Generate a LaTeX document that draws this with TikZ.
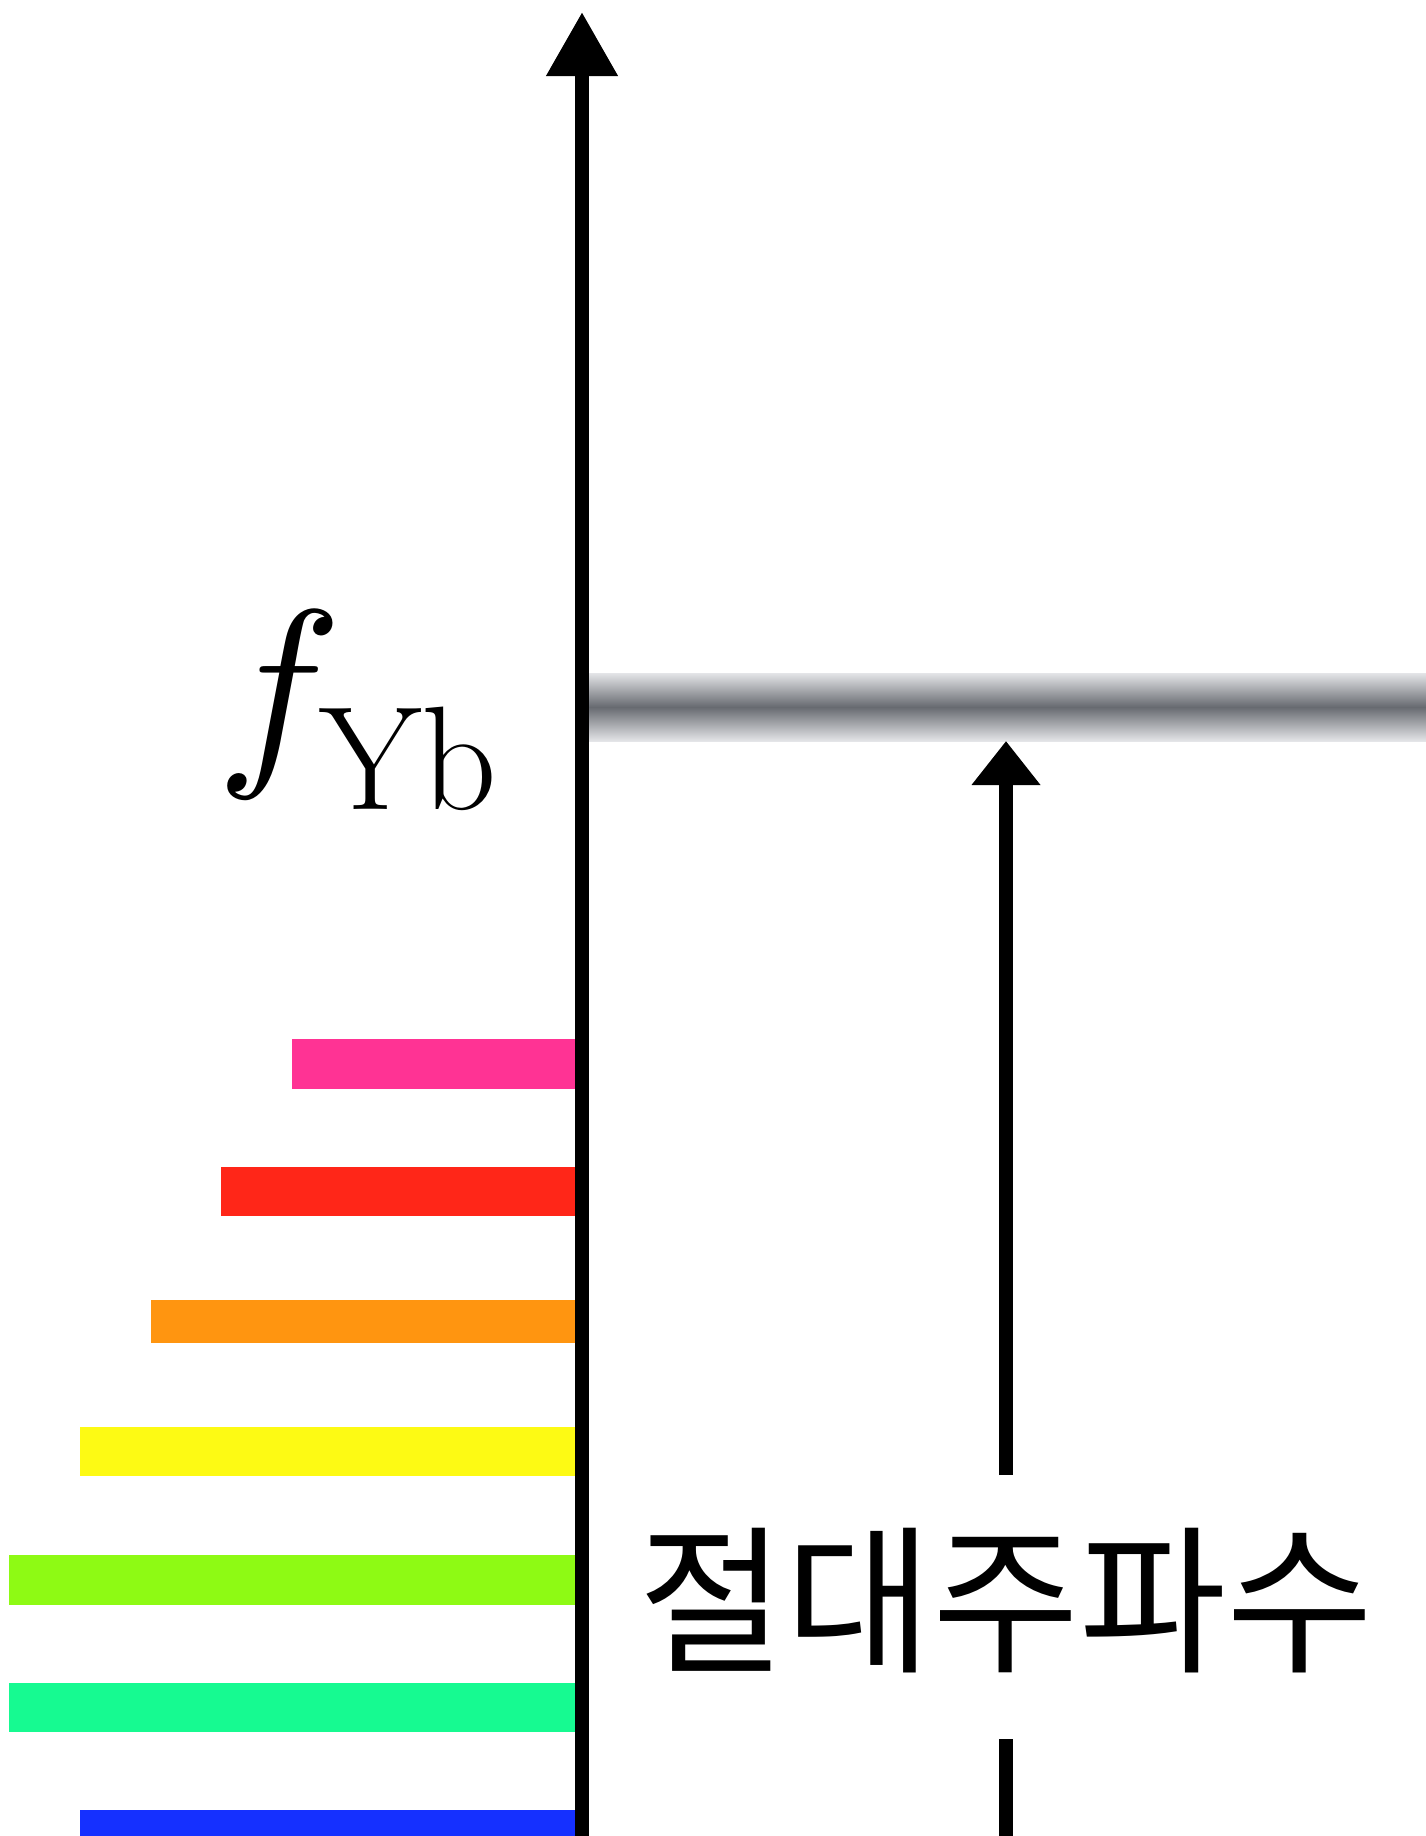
\documentclass[tikz,border=0pt]{standalone}
\usepackage{fontspec}
\usepackage{unicode-math}
\setmathfont{Latin Modern Math}
\newfontfamily\kofont{Noto Sans CJK KR}
\usetikzlibrary{arrows.meta}
\definecolor{pinkbar}{HTML}{FF3394}
\definecolor{redbar}{HTML}{FF2618}
\definecolor{orangebar}{HTML}{FF9510}
\definecolor{yellowbar}{HTML}{FDFA14}
\definecolor{limebar}{HTML}{8EFA14}
\definecolor{springbar}{HTML}{16FA91}
\definecolor{bluebar}{HTML}{1530FF}
\definecolor{bandedge}{HTML}{E4E5E8}
\definecolor{bandmid}{HTML}{676A70}
\tikzset{
  axisline/.style={line width=14pt, draw=black},
  bigtip/.style={-{Triangle[width=68pt,length=64pt]}},
  smalltip/.style={-{Triangle[width=66pt,length=44pt]}},
}
\begin{document}
\begin{tikzpicture}[x=1pt,y=-1pt]
\useasboundingbox (0,0) rectangle (1426,1836);
% colour bars
\fill[pinkbar]   (292,1039) rectangle (582,1089);
\fill[redbar]    (221,1167) rectangle (582,1216);
\fill[orangebar] (151,1300) rectangle (582,1343);
\fill[yellowbar] (80,1427)  rectangle (582,1476);
\fill[limebar]   (9,1555)   rectangle (582,1605);
\fill[springbar] (9,1683)   rectangle (582,1732);
\fill[bluebar]   (80,1810)  rectangle (582,1836);
% gray level band
\shade[top color=bandedge, bottom color=bandedge, middle color=bandmid] (589,673) rectangle (1426,741);
% main axis
\coordinate (axbot) at (582,1836);
\coordinate (axtop) at (582,12);
\draw[axisline, bigtip] (axbot) -- (axtop);
% label f_Yb
\node[inner sep=0pt, anchor=base east] (fyb) at (498,757) {\fontsize{211}{250}\selectfont $f_{\mathrm{Yb}}$};
% absolute frequency arrow
\node[inner sep=0pt] (lbl) at (1006,1601) {\kofont\fontsize{160}{190}\selectfont 절대주파수};
\coordinate (arrstart) at (1006,1475);
\coordinate (arrend) at (1006,741);
\draw[axisline, smalltip] (arrstart) -- (arrend);
\coordinate (dashtop) at (1006,1739);
\coordinate (dashbot) at (1006,1836);
\draw[axisline] (dashtop) -- (dashbot);
\end{tikzpicture}
\end{document}
